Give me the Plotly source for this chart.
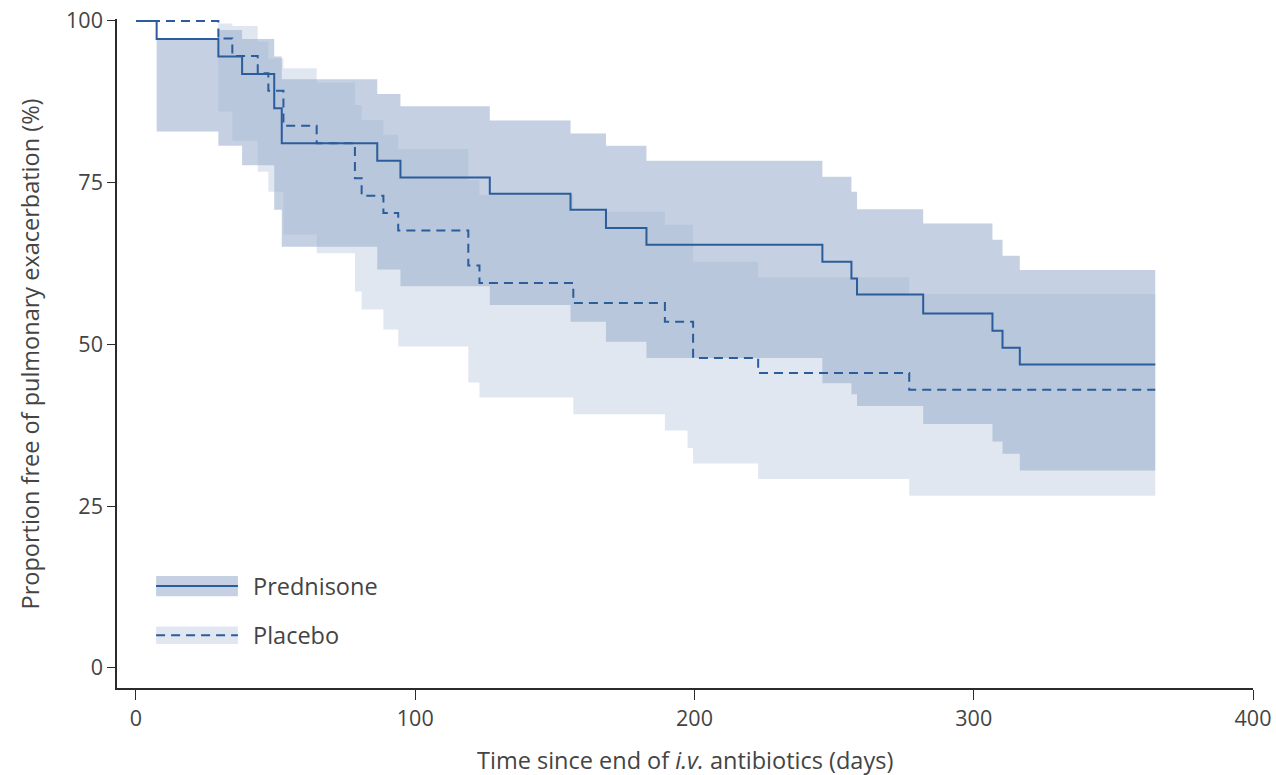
import plotly.graph_objects as go

# ---------------- data ----------------
END_DAY = 365

# Prednisone Kaplan-Meier estimate and confidence band
pred_t = [0, 7.4, 29.5, 38.0, 49.5, 52.2, 86.4, 94.7, 126.7, 155.6, 168.3, 182.8,
          245.8, 256.2, 258.2, 281.9, 306.7, 310.3, 316.5]
pred_s = [100, 97.2, 94.5, 91.8, 86.5, 81.1, 78.4, 75.8, 73.3, 70.8, 68.0, 65.4,
          62.8, 60.2, 57.7, 54.8, 52.1, 49.5, 46.9]
pred_up = [100, 97.2, 98.6, 97.2, 94.5, 91.0, 88.7, 86.8, 84.6, 82.6, 80.7, 78.4,
           75.9, 73.6, 70.9, 68.7, 66.2, 63.7, 61.5]
pred_lo = [100, 82.9, 80.7, 77.7, 70.8, 65.1, 61.6, 59.0, 56.1, 53.5, 50.4, 47.9,
           44.0, 42.3, 40.5, 37.7, 35.0, 33.1, 30.5]

# Placebo Kaplan-Meier estimate and confidence band
plac_t = [0, 29.5, 34.5, 43.6, 47.4, 52.8, 64.7, 78.4, 80.8, 88.6, 93.9, 119.0,
          123.0, 156.6, 189.4, 199.5, 222.8, 276.9]
plac_s = [100, 97.3, 94.6, 91.9, 89.2, 83.8, 81.1, 75.7, 73.0, 70.3, 67.6, 62.2,
          59.5, 56.4, 53.5, 47.9, 45.6, 43.0]
plac_up = [100, 99.6, 99.2, 96.8, 94.2, 92.7, 90.5, 87.0, 84.7, 82.4, 80.2, 75.4,
           73.1, 70.5, 68.5, 62.8, 60.4, 57.8]
plac_lo_t = [0, 29.5, 34.5, 43.6, 47.4, 52.8, 64.7, 78.4, 80.8, 88.6, 93.9, 119.0,
             123.0, 156.6, 189.4, 197.5, 199.5, 222.8, 276.9]
plac_lo = [100, 86.0, 81.5, 76.7, 73.6, 67.0, 64.1, 58.2, 55.4, 52.3, 49.7, 44.1,
           41.8, 39.2, 36.7, 34.0, 31.6, 29.2, 26.6]

x_ticks = [0, 100, 200, 300, 400]
y_ticks = [0, 25, 50, 75, 100]
series_names = ["Prednisone", "Placebo"]
x_title = "Time since end of <i>i.v.</i> antibiotics (days)"
y_title = "Proportion free of pulmonary exacerbation (%)"

# ---------------- style ----------------
LINE = "#2b5c9b"
PRED_FILL = "rgba(153,174,204,0.57)"
PLAC_FILL = "rgba(153,174,204,0.29)"
AXIS = "#2b2b2b"
TEXT = "#444444"
FONT = "Open Sans"
TITLE_SIZE = 23.5
TICK_SIZE = 21.5


def ext_x(t):
    return list(t) + [END_DAY]


def ext_y(v):
    return list(v) + [v[-1]]


fig = go.Figure()

common = dict(mode="lines", line_shape="hv", showlegend=False, hoverinfo="skip")

# placebo band
fig.add_trace(go.Scatter(x=ext_x(plac_lo_t), y=ext_y(plac_lo), line=dict(width=0), **common))
fig.add_trace(go.Scatter(x=ext_x(plac_t), y=ext_y(plac_up), line=dict(width=0),
                         fill="tonexty", fillcolor=PLAC_FILL, **common))
# prednisone band
fig.add_trace(go.Scatter(x=ext_x(pred_t), y=ext_y(pred_lo), line=dict(width=0), **common))
fig.add_trace(go.Scatter(x=ext_x(pred_t), y=ext_y(pred_up), line=dict(width=0),
                         fill="tonexty", fillcolor=PRED_FILL, **common))
# survival lines
fig.add_trace(go.Scatter(x=ext_x(plac_t), y=ext_y(plac_s),
                         line=dict(color=LINE, width=2, dash="9px,6px"), **common))
fig.add_trace(go.Scatter(x=ext_x(pred_t), y=ext_y(pred_s),
                         line=dict(color=LINE, width=2), **common))

# ---------------- manual legend ----------------
lg_x0, lg_x1 = 7.2, 36.5
shapes = [
    dict(type="rect", xref="x", yref="y", x0=lg_x0, x1=lg_x1, y0=11.1, y1=14.2,
         fillcolor=PRED_FILL, line=dict(width=0), layer="above"),
    dict(type="line", xref="x", yref="y", x0=lg_x0, x1=lg_x1, y0=12.65, y1=12.65,
         line=dict(color=LINE, width=2)),
    dict(type="rect", xref="x", yref="y", x0=lg_x0, x1=lg_x1, y0=3.7, y1=6.4,
         fillcolor=PLAC_FILL, line=dict(width=0), layer="above"),
    dict(type="line", xref="x", yref="y", x0=lg_x0, x1=lg_x1, y0=5.05, y1=5.05,
         line=dict(color=LINE, width=2, dash="9px,6px")),
]
annotations = [
    dict(x=41.3, y=12.6, xref="x", yref="y", text=series_names[0], showarrow=False,
         xanchor="left", yanchor="middle", font=dict(family=FONT, size=TITLE_SIZE, color=TEXT)),
    dict(x=41.3, y=5.05, xref="x", yref="y", text=series_names[1], showarrow=False,
         xanchor="left", yanchor="middle", font=dict(family=FONT, size=TITLE_SIZE, color=TEXT)),
    # axis titles
    dict(x=0.5, y=-0.1076, xref="paper", yref="paper", text=x_title, showarrow=False,
         xanchor="center", yanchor="middle", font=dict(family=FONT, size=TITLE_SIZE, color=TEXT)),
    dict(x=-0.0766, y=0.5, xref="paper", yref="paper", text=y_title, showarrow=False,
         textangle=-90, xanchor="center", yanchor="middle",
         font=dict(family=FONT, size=TITLE_SIZE, color=TEXT)),
]

fig.update_layout(
    width=1276, height=775,
    margin=dict(l=117, r=23, t=19, b=87, autoexpand=False),
    paper_bgcolor="white", plot_bgcolor="white",
    font=dict(family=FONT, color=TEXT, size=TICK_SIZE),
    shapes=shapes, annotations=annotations,
    xaxis=dict(range=[-6.8, 400], tickvals=x_ticks, showline=True, linecolor=AXIS,
               linewidth=1.5, ticks="outside", ticklen=10, tickwidth=1.2, tickcolor=AXIS,
               showgrid=False, zeroline=False, automargin=False,
               tickfont=dict(size=TICK_SIZE, color=TEXT)),
    yaxis=dict(range=[-3.1, 100.3], tickvals=y_ticks, showline=True, linecolor=AXIS,
               linewidth=1.5, ticks="outside", ticklen=8, tickwidth=1.2, tickcolor=AXIS,
               showgrid=False, zeroline=False, automargin=False,
               tickfont=dict(size=TICK_SIZE, color=TEXT)),
)

fig.write_html("out.html")
